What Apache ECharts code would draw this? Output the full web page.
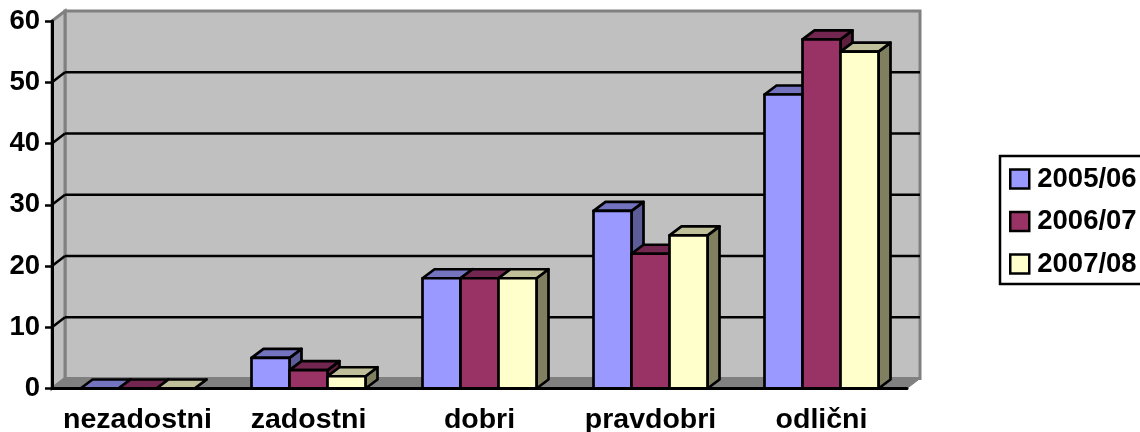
<!DOCTYPE html>
<html>
<head>
<meta charset="utf-8">
<style>
  html, body { margin: 0; padding: 0; background: #fff; overflow: hidden; }
  #chart { width: 1140px; height: 432px; }
</style>
<script src="https://cdn.jsdelivr.net/npm/echarts@6/dist/echarts.min.js"></script>
</head>
<body>
<div id="chart"></div>
<script>
const categories = ['nezadostni', 'zadostni', 'dobri', 'pravdobri', 'odlični']
const yTicks = [10, 20, 30, 40, 50]
const seriesNames = ['2005/06', '2006/07', '2007/08']
const values0506 = [0, 5, 18, 29, 48]
const values0607 = [0, 3, 18, 22, 57]
const values0708 = [0, 2, 18, 25, 55]
const seriesValues = [values0506, values0607, values0708]

const faceColors = ['#9999FF', '#993366', '#FFFFCC']
const topColors = ['#7373BF', '#732650', '#BFBF99']
const sideColors = ['#5C5C99', '#5C1F3D', '#808060']

const wallDx = 13, wallDy = -10
const barDx = 12, barDy = -9
const fontFamily = '"Liberation Sans", Arial, sans-serif'

const chart = echarts.init(document.getElementById('chart'))

// back wall, side wall and floor, taken from the grid rectangle
const renderWall = (params) => {
    const r = params.coordSys
    const l = r.x, t = r.y, b = r.y + r.height, w = r.x + r.width
    const wall = { fill: '#C0C0C0', stroke: '#808080', lineWidth: 3 }
    return {
        type: 'group',
        children: [
            { type: 'polygon', shape: { points: [[l + wallDx, t + wallDy], [w + wallDx, t + wallDy], [w + wallDx, b + wallDy], [l + wallDx, b + wallDy]] }, style: wall },
            { type: 'polygon', shape: { points: [[l, t], [l + wallDx, t + wallDy], [l + wallDx, b + wallDy], [l, b]] }, style: wall },
            { type: 'polygon', shape: { points: [[l, b], [l + wallDx, b + wallDy], [w + wallDx, b + wallDy], [w, b]] }, style: { fill: '#808080', stroke: '#808080', lineWidth: 1 } },
        ],
    }
}

const renderGridLine = (params, api) => {
    const r = params.coordSys
    const y = api.coord([0, api.value(0)])[1]
    const line = { stroke: '#000', lineWidth: 2.5, fill: 'none' }
    return {
        type: 'group',
        children: [
            { type: 'line', shape: { x1: r.x, y1: y, x2: r.x + wallDx, y2: y + wallDy }, style: line },
            { type: 'line', shape: { x1: r.x + wallDx, y1: y + wallDy, x2: r.x + r.width + wallDx, y2: y + wallDy }, style: line },
        ],
    }
}

const renderBar = (s) => (params, api) => {
    const band = api.size([1, 0])[0]
    const barW = band / 4.5
    const top = api.coord([api.value(0), api.value(1)])
    const base = api.coord([api.value(0), 0])
    const x0 = top[0] - barW * 1.5 + s * barW
    const x1 = x0 + barW
    const yt = top[1], yb = base[1]
    const edge = { stroke: '#000', lineWidth: 2.7, lineJoin: 'round' }
    return {
        type: 'group',
        children: [
            { type: 'polygon', shape: { points: [[x1, yt], [x1 + barDx, yt + barDy], [x1 + barDx, yb + barDy], [x1, yb]] }, style: { ...edge, fill: sideColors[s] } },
            { type: 'polygon', shape: { points: [[x0, yt], [x0 + barDx, yt + barDy], [x1 + barDx, yt + barDy], [x1, yt]] }, style: { ...edge, fill: topColors[s] } },
            { type: 'rect', shape: { x: x0, y: yt, width: barW, height: yb - yt }, style: { ...edge, fill: faceColors[s] } },
        ],
    }
}

chart.setOption({
    animation: false,
    backgroundColor: '#fff',
    textStyle: { fontFamily },
    grid: { left: 52, right: 233, top: 21, bottom: 43.5, outerBoundsMode: 'none' },
    legend: {
        orient: 'vertical',
        left: 1000,
        top: 156,
        data: seriesNames,
        icon: 'rect',
        itemWidth: 19,
        itemHeight: 19,
        itemGap: 14.5,
        padding: [9, 12, 6, 9],
        borderColor: '#000',
        borderWidth: 2.5,
        itemStyle: { borderColor: '#000', borderWidth: 2.5 },
        textStyle: { fontFamily, fontWeight: 'bold', fontSize: 27.5, color: '#000', padding: [0, 0, 0, 3] },
    },
    xAxis: {
        type: 'category',
        data: categories,
        z: 5,
        axisLine: { lineStyle: { color: '#000', width: 3 } },
        axisTick: { length: 7, lineStyle: { color: '#000', width: 2.5 } },
        axisLabel: { interval: 0, margin: 17, color: '#000', fontFamily, fontWeight: 'bold', fontSize: 28.5 },
    },
    yAxis: {
        type: 'value',
        min: 0,
        max: 60,
        interval: 10,
        z: 5,
        splitLine: { show: false },
        axisLine: { show: true, lineStyle: { color: '#000', width: 3 } },
        axisTick: { show: true, length: 7, lineStyle: { color: '#000', width: 2.5 } },
        axisLabel: { margin: 12, padding: [3, 0, 0, 0], color: '#000', fontFamily, fontWeight: 'bold', fontSize: 27.5 },
    },
    series: [
        { type: 'custom', name: 'wall', silent: true, z: 1, data: [0], renderItem: renderWall },
        { type: 'custom', name: 'gridlines', silent: true, z: 1, data: yTicks, encode: { y: 0 }, renderItem: renderGridLine },
        ...seriesNames.map((name, s) => ({
            type: 'custom',
            name,
            z: 2,
            itemStyle: { color: faceColors[s] },
            data: seriesValues[s].map((v, i) => [i, v]),
            encode: { x: 0, y: 1 },
            renderItem: renderBar(s),
        })),
    ],
})
</script>
</body>
</html>
